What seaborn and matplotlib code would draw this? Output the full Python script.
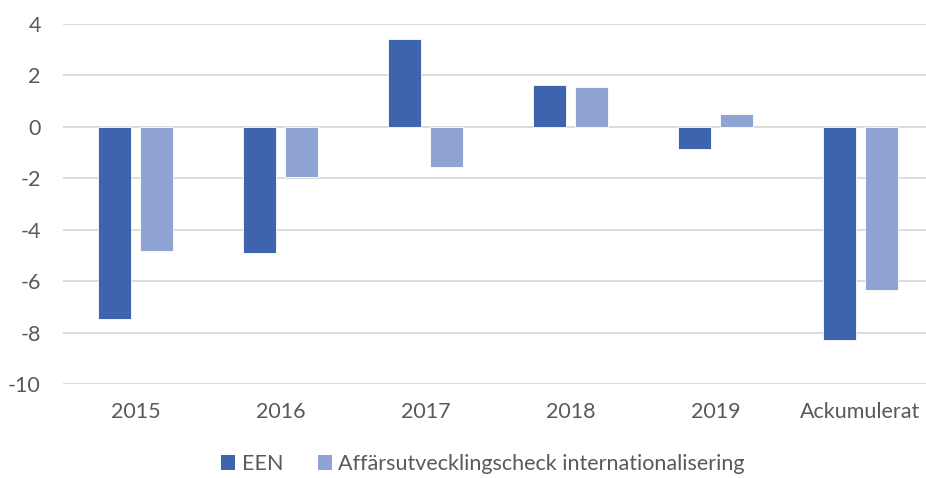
import matplotlib
matplotlib.use("Agg")
import matplotlib.pyplot as plt
import seaborn as sns
import pandas as pd
from matplotlib.patches import Patch

categories = ["2015", "2016", "2017", "2018", "2019", "Ackumulerat"]
series_names = ["EEN", "Affärsutvecklingscheck internationalisering"]
een = [-7.48, -4.92, 3.41, 1.63, -0.86, -8.27]
affar = [-4.81, -1.94, -1.58, 1.54, 0.51, -6.35]
yticks = [4, 2, 0, -2, -4, -6, -8, -10]
colors = ["#3E64AD", "#8FA3D4"]

df = pd.DataFrame({
    "cat": categories * 2,
    "series": [series_names[0]] * len(categories) + [series_names[1]] * len(categories),
    "value": een + affar,
})

sns.set_theme(style="white")
plt.rcParams["font.family"] = ["Lato", "DejaVu Sans"]
text_color = "#595959"

fig = plt.figure(figsize=(9.26, 4.78), dpi=100)
ax = fig.add_axes([63 / 926, 94 / 478, 870 / 926, 360 / 478])

sns.barplot(data=df, x="cat", y="value", hue="series", order=categories,
            hue_order=series_names, palette=colors, width=0.566, gap=0.195,
            saturation=1, edgecolor="white", linewidth=0.6, ax=ax, legend=False,
            zorder=3)

ax.set_ylim(-10, 4)
ax.set_xlim(-0.5, 5.5)
ax.set_yticks(yticks)
ax.set_yticklabels([str(v) for v in yticks])
ax.yaxis.grid(True, color="#D9D9D9", linewidth=1.3, zorder=0)
ax.set_axisbelow(True)
for s in ax.spines.values():
    s.set_visible(False)
ax.tick_params(axis="both", length=0, labelsize=15.5, labelcolor=text_color)
ax.tick_params(axis="y", pad=16)
ax.tick_params(axis="x", pad=13)
ax.set_xlabel("")
ax.set_ylabel("")

handles = [Patch(facecolor=c, edgecolor="none") for c in colors]
fig.legend(handles, series_names, loc="center", bbox_to_anchor=(483 / 926, 14 / 478),
           ncol=2, frameon=False, fontsize=15.5, labelcolor=text_color,
           handlelength=0.65, handleheight=0.65, handletextpad=0.3, columnspacing=1.6,
           borderpad=0.2)

fig.savefig("out.png", dpi=100)
